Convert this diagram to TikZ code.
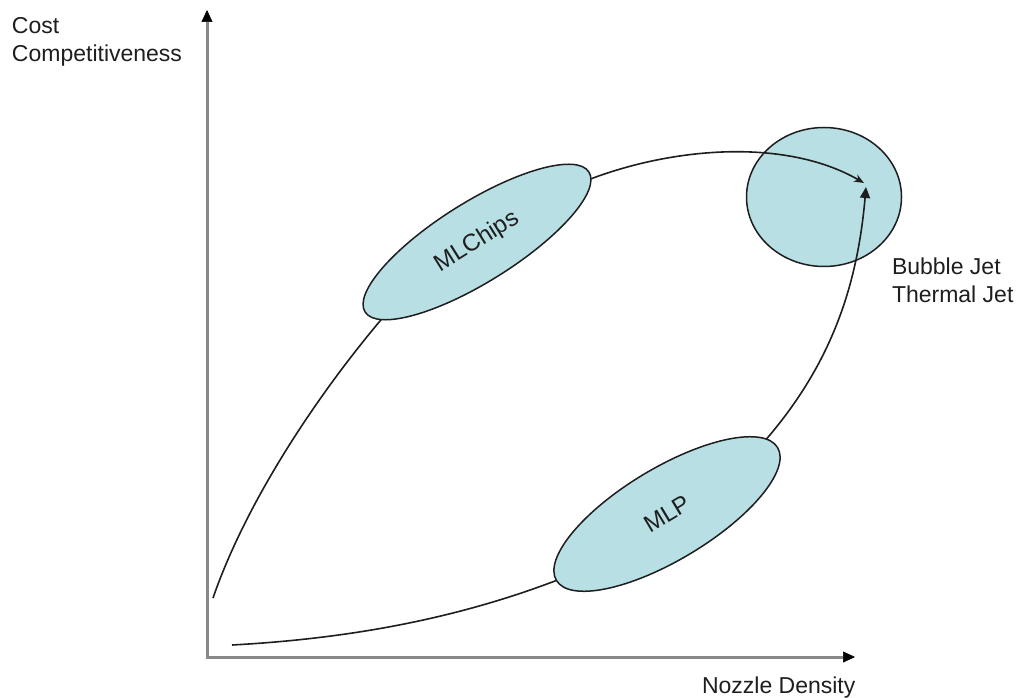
\documentclass[tikz,border=0pt]{standalone}
\usepackage{fontspec}
\setmainfont{Liberation Sans}
\usetikzlibrary{arrows.meta,shapes.geometric}
\definecolor{bubble}{RGB}{184,224,228}
\definecolor{axisgray}{RGB}{136,136,136}
\definecolor{ink}{RGB}{30,30,30}
\begin{document}
\begin{tikzpicture}[x=1pt,y=1pt,
  blob/.style={ellipse, draw=ink, line width=1.5pt, fill=bubble, inner sep=0pt, outer sep=0pt, text=ink, font=\fontsize{24}{28}\selectfont},
  axis/.style={draw=axisgray, line width=3pt, {Triangle[length=12pt,width=11pt,color=black,line width=0.6pt]}-{Triangle[length=12pt,width=11pt,color=black,line width=0.6pt]}},
  link/.style={draw=ink, line width=1.6pt},
  lbl/.style={inner sep=0pt, outer sep=0pt, text=ink, font=\fontsize{23}{28}\selectfont, align=left}]
\fill[white] (0,0) rectangle (1019,697);
\useasboundingbox (0,0) rectangle (1019,697);
% nodes
\node[blob, minimum width=155pt, minimum height=139pt] (bj) at (824,500) {};
\node[blob, rotate=32, minimum width=264pt, minimum height=80pt] (mlc) at (477,455) {MLChips};
\node[blob, rotate=31, minimum width=258pt, minimum height=92pt] (mlp) at (667,183) {MLP};
% coordinates
\coordinate (O) at (207,40);
\coordinate (ytop) at (207,687);
\coordinate (xend) at (855,40);
\coordinate (a0) at (213,99);
\coordinate (a1) at (864,514);
\coordinate (b0) at (232,52);
\coordinate (b1) at (866,510);
% axes
\draw[axis] (ytop) -- (O) -- (xend);
% connectors
\draw[link] (a0) .. controls (245.6,193.6) and (315,299) .. (mlc.187);
\draw[link, -{Stealth[length=10pt,width=8pt]}] (mlc.357) .. controls (674.6,549.8) and (786,559) .. (a1);
\draw[link] (b0) .. controls (342,58) and (450,76) .. (mlp.west);
\draw[link, -{Triangle[length=11pt,width=10pt]}] (mlp.6) .. controls (830.6,332.5) and (857.3,410) .. (b1);
% labels
\node[lbl, anchor=north west] (yl) at (12,680) {Cost\\Competitiveness};
\node[lbl, anchor=base west] (xl) at (702,4) {Nozzle Density};
\node[lbl, anchor=north west] (bjl) at (892,439) {Bubble Jet\\Thermal Jet};
\end{tikzpicture}
\end{document}
